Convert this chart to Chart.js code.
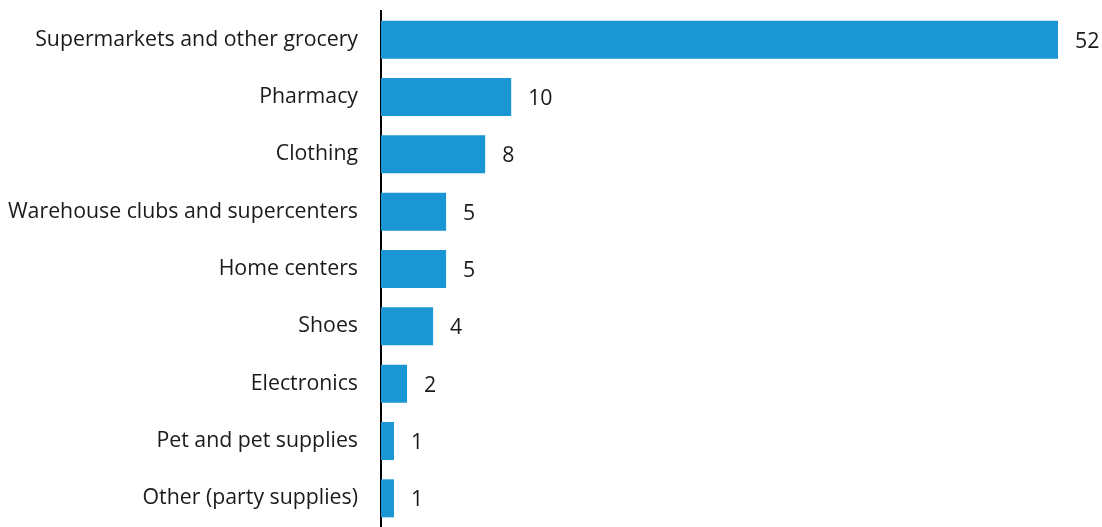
<!DOCTYPE html>
<html>
<head>
<meta charset="utf-8">
<script src="https://cdn.jsdelivr.net/npm/chart.js@4"></script>
<style>
  html, body { margin: 0; padding: 0; background: #fff; }
  #wrap { width: 1102px; height: 527px; position: relative; }
</style>
</head>
<body>
<div id="wrap"><canvas id="storeChart"></canvas></div>
<script>
// 店舗カテゴリ別の件数
const categories = [
    'Supermarkets and other grocery',
    'Pharmacy',
    'Clothing',
    'Warehouse clubs and supercenters',
    'Home centers',
    'Shoes',
    'Electronics',
    'Pet and pet supplies',
    'Other (party supplies)'
];
const counts = [52, 10, 8, 5, 5, 4, 2, 1, 1];

const BAR_COLOR = '#1996d3';
const TEXT_COLOR = '#1a1a1a';
const FONT_FAMILY = '"Open Sans", "Noto Sans", sans-serif';
const FONT_SIZE = 21.3;

// バー右側に値を表示するプラグイン
const valueLabels = {
    id: 'valueLabels',
    afterDatasetsDraw(chart) {
        const ctx = chart.ctx;
        const meta = chart.getDatasetMeta(0);
        ctx.save();
        ctx.font = FONT_SIZE + 'px ' + FONT_FAMILY;
        ctx.fillStyle = TEXT_COLOR;
        ctx.textAlign = 'left';
        ctx.textBaseline = 'middle';
        meta.data.forEach((bar, i) => {
            ctx.fillText(String(counts[i]), bar.x + 17, bar.y + 2);
        });
        ctx.restore();
    }
};

new Chart(document.getElementById('storeChart'), {
    type: 'bar',
    data: {
        labels: categories,
        datasets: [{
            data: counts,
            backgroundColor: BAR_COLOR,
            borderWidth: 0,
            categoryPercentage: 1,
            barPercentage: 0.663
        }]
    },
    options: {
        indexAxis: 'y',
        responsive: true,
        maintainAspectRatio: false,
        animation: false,
        layout: { padding: { top: 11, right: 44, bottom: 0, left: 0 } },
        plugins: {
            legend: { display: false },
            tooltip: { enabled: false }
        },
        scales: {
            x: {
                display: false,
                min: 0,
                max: 52
            },
            y: {
                // 軸の位置を固定し、ラベル分の上下余白は取らない
                afterFit(scale) {
                    scale.width = 381;
                    scale.paddingTop = 0;
                    scale.paddingBottom = 0;
                },
                grid: { display: false, drawTicks: false },
                border: { display: true, color: '#000', width: 2 },
                ticks: {
                    padding: 23,
                    color: TEXT_COLOR,
                    font: { family: FONT_FAMILY, size: FONT_SIZE }
                }
            }
        }
    },
    plugins: [valueLabels]
});
</script>
</body>
</html>
